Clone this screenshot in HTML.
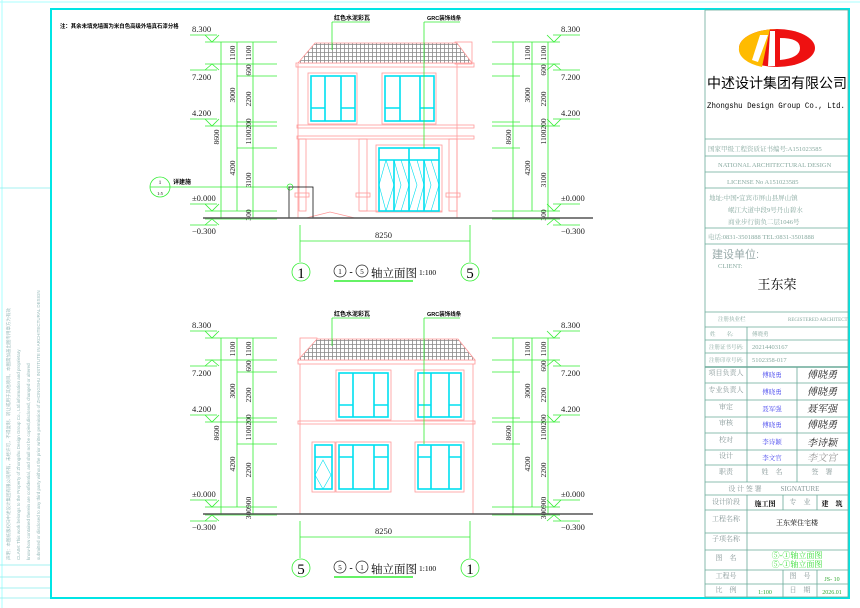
<!DOCTYPE html>
<html><head><meta charset="utf-8"><style>
html,body{margin:0;padding:0;background:#fff;}
svg{display:block;}
text{font-family:"Liberation Serif","Noto Serif CJK SC",serif;}
.s{font-family:"Liberation Sans","Noto Sans CJK SC",sans-serif;}
</style></head><body>
<svg width="860" height="608" viewBox="0 0 860 608" xmlns="http://www.w3.org/2000/svg">
<defs>
<pattern id="tile" width="4" height="4" patternUnits="userSpaceOnUse">
<rect width="4" height="4" fill="#fff"/><path d="M0 0.5H4M0.5 0V4" stroke="#888" stroke-width="0.8"/>
</pattern>
<g id="dims" fill="none" stroke="#33ee33" stroke-width="0.8">
 <path d="M190 35H217M205 35L212 42L219 35"/>
 <path d="M190 70H217M205 70L212 64L219 70"/>
 <path d="M190 119H217M205 119L212 126L219 119"/>
 <path d="M190 204H217M205 204L212 211L219 204"/>
 <path d="M190 225H217M205 225L212 219L219 225"/>
 <path d="M205 42H277M205 64H277M237 76H277M237 122H277M205 126H277M237 148H277M205 211H277M205 219H277"/>
 <path d="M221 42V219M237 42V211M253 42V219"/>
 <path d="M553 35H580M547 35L554 42L561 35"/>
 <path d="M553 70H580M547 70L554 64L561 70"/>
 <path d="M553 119H580M547 119L554 126L561 119"/>
 <path d="M553 204H580M547 204L554 211L561 204"/>
 <path d="M553 225H580M547 225L554 219L561 225"/>
 <path d="M492 42H560M492 64H560M492 76H520M492 122H520M492 126H560M492 148H520M492 211H560M492 219H560"/>
 <path d="M513 42V219M532 42V211M548 42V219"/>
 <path d="M300 225V262M470 225V262M300 241H470"/>
 <circle cx="301" cy="272" r="9"/><circle cx="470" cy="272" r="9"/>
 <path d="M334 281H413" stroke-width="1.5"/>
</g>
</defs>

<path d="M0 2H860M2 0V608" stroke="#aaffff" stroke-width="1"/>
<rect x="51" y="9" width="798" height="589" fill="none" stroke="#00e5e5" stroke-width="2"/>
<path d="M50 188H0M0 565H50M0 577H50M0 588H50M0 598H50" stroke="#88eeee" stroke-width="0.8"/>
<text class="s" transform="translate(10,560) rotate(-90)" font-size="4.5" fill="#99bbbb">声明：本图纸版权归中述设计集团有限公司所有，未经许可，不得复制、转让或用于其他项目。本图需加盖出图专用章方为有效</text>
<text class="s" transform="translate(20,560) rotate(-90)" font-size="4.5" fill="#99bbbb">CLAIM: This work belongs to the Property of Zhongshu Design Group Co., Ltd.information and proprietary</text>
<text class="s" transform="translate(30,560) rotate(-90)" font-size="4.5" fill="#99bbbb">know-how contained therein are confidential, and shall not be copied,disclosed, changed or altered</text>
<text class="s" transform="translate(40,560) rotate(-90)" font-size="4.5" fill="#99bbbb">submitted or disclosed to any third party without the prior written permission of ZHONGSHU INSTITUTE IN ARCHITECTURAL DESIGN</text>

<text class="s" x="60" y="28" font-size="5.4" font-weight="bold">注：其余未填充墙面为米白色高级外墙真石漆分格</text>
<circle cx="160" cy="187" r="10" fill="none" stroke="#33ee33" stroke-width="0.8"/>
<path d="M150 187H290" stroke="#33ee33" stroke-width="0.8"/>
<text x="160" y="184" font-size="5" text-anchor="middle">1</text>
<text x="160" y="195" font-size="4.5" text-anchor="middle">1:5</text>
<text class="s" x="173" y="184" font-size="6" font-weight="bold">详建施</text>
<circle cx="290" cy="187" r="3" fill="none" stroke="#33ee33" stroke-width="0.7"/>

<!-- ELEVATION 1 -->
<use href="#dims"/>
<g font-size="8.5" fill="#222">
<text x="192" y="32">8.300</text><text x="192" y="80">7.200</text><text x="192" y="116">4.200</text><text x="192" y="201">±0.000</text><text x="192" y="234">−0.300</text>
<text x="561" y="32">8.300</text><text x="561" y="80">7.200</text><text x="561" y="116">4.200</text><text x="561" y="201">±0.000</text><text x="561" y="234">−0.300</text>
<text x="375" y="238">8250</text>
</g>
<g font-size="7.5" fill="#222">
<text transform="translate(219,137) rotate(-90)" text-anchor="middle">8600</text>
<text transform="translate(235,53) rotate(-90)" text-anchor="middle">1100</text>
<text transform="translate(235,95) rotate(-90)" text-anchor="middle">3000</text>
<text transform="translate(235,168) rotate(-90)" text-anchor="middle">4200</text>
<text transform="translate(251,53) rotate(-90)" text-anchor="middle">1100</text>
<text transform="translate(251,70) rotate(-90)" text-anchor="middle">600</text>
<text transform="translate(251,99) rotate(-90)" text-anchor="middle">2200</text>
<text transform="translate(251,124) rotate(-90)" text-anchor="middle">200</text>
<text transform="translate(251,137) rotate(-90)" text-anchor="middle">1100</text>
<text transform="translate(251,180) rotate(-90)" text-anchor="middle">3100</text>
<text transform="translate(251,215) rotate(-90)" text-anchor="middle">300</text>
<text transform="translate(511,137) rotate(-90)" text-anchor="middle">8600</text>
<text transform="translate(530,53) rotate(-90)" text-anchor="middle">1100</text>
<text transform="translate(530,95) rotate(-90)" text-anchor="middle">3000</text>
<text transform="translate(530,168) rotate(-90)" text-anchor="middle">4200</text>
<text transform="translate(546,53) rotate(-90)" text-anchor="middle">1100</text>
<text transform="translate(546,70) rotate(-90)" text-anchor="middle">600</text>
<text transform="translate(546,99) rotate(-90)" text-anchor="middle">2200</text>
<text transform="translate(546,124) rotate(-90)" text-anchor="middle">200</text>
<text transform="translate(546,137) rotate(-90)" text-anchor="middle">1100</text>
<text transform="translate(546,180) rotate(-90)" text-anchor="middle">3100</text>
<text transform="translate(546,215) rotate(-90)" text-anchor="middle">300</text>
</g>
<text x="301" y="278" font-size="15" text-anchor="middle">1</text>
<text x="470" y="278" font-size="15" text-anchor="middle">5</text>
<g fill="none" stroke="#222" stroke-width="0.7"><circle cx="340" cy="271" r="6"/><circle cx="362" cy="271" r="6"/></g>
<text x="340" y="274" font-size="7" text-anchor="middle">1</text><text x="351" y="275" font-size="10" text-anchor="middle">-</text><text x="362" y="274" font-size="7" text-anchor="middle">5</text>
<text x="371" y="277" font-size="11.5">轴立面图</text>
<text x="419" y="275" font-size="7.5">1:100</text>

<g fill="none" stroke="#ff9999" stroke-width="0.8">
 <path d="M298 64V218M457 64V218"/>
 <rect x="296" y="63" width="178" height="4"/>
 <rect x="455" y="42" width="17" height="22"/>
 <rect x="297" y="125" width="177" height="3"/>
 <rect x="297" y="136" width="177" height="3"/>
 <rect x="299" y="139" width="7" height="72"/><rect x="359" y="139" width="8" height="72"/><rect x="449" y="139" width="8" height="72"/>
 <rect x="295" y="193" width="14" height="4"/><rect x="356" y="193" width="14" height="4"/><rect x="446" y="193" width="14" height="4"/>
 <rect x="308" y="73" width="49" height="51"/><rect x="382" y="73" width="54" height="51"/>
 <rect x="376" y="145" width="66" height="67"/>
 <path d="M360 211H442M306 218L330 212L355 218"/>
</g>
<path d="M315 43H457L472 63H298Z" fill="url(#tile)" stroke="#ff9999" stroke-width="0.8"/>
<g fill="none" stroke="#00e0f0" stroke-width="1.6">
 <rect x="311" y="76" width="44" height="45"/><path d="M325 76V121M341 76V121M311 108H325M341 108H355"/>
 <rect x="385" y="76" width="49" height="45"/><path d="M400 76V121M420 76V121M385 108H400M420 108H434"/>
 <rect x="379" y="148" width="60" height="63"/><path d="M379 160H439M409 148V211M394 160V211M424 160V211"/>
</g>
<g fill="none" stroke="#00e0f0" stroke-width="0.6">
 <path d="M386 160L394 185L386 211M394 160L401 185L394 211M401 160L409 185L401 211M409 160L417 185L409 211M417 160L424 185L417 211M431 160L439 185L431 211M379 185L386 160M379 185L386 211M424 160L431 185L424 211"/>
</g>
<rect x="289" y="187" width="24" height="31" fill="none" stroke="#111" stroke-width="0.8"/>
<path d="M203 218H593" stroke="#555" stroke-width="1.5"/>
<g stroke="#33ee33" stroke-width="0.8" fill="none">
 <path d="M332 22H370M332 22V50M424 22H460M424 22V148"/>
</g>
<text class="s" x="334" y="20" font-size="6" font-weight="bold">红色水泥彩瓦</text>
<text class="s" x="427" y="20" font-size="5.5" font-weight="bold">GRC装饰线条</text>

<!-- ELEVATION 2 -->
<use href="#dims" transform="translate(0,296)"/>
<g font-size="8.5" fill="#222">
<text x="192" y="328">8.300</text><text x="192" y="376">7.200</text><text x="192" y="412">4.200</text><text x="192" y="497">±0.000</text><text x="192" y="530">−0.300</text>
<text x="561" y="328">8.300</text><text x="561" y="376">7.200</text><text x="561" y="412">4.200</text><text x="561" y="497">±0.000</text><text x="561" y="530">−0.300</text>
<text x="375" y="534">8250</text>
</g>
<g font-size="7.5" fill="#222">
<text transform="translate(219,433) rotate(-90)" text-anchor="middle">8600</text>
<text transform="translate(235,349) rotate(-90)" text-anchor="middle">1100</text>
<text transform="translate(235,391) rotate(-90)" text-anchor="middle">3000</text>
<text transform="translate(235,464) rotate(-90)" text-anchor="middle">4200</text>
<text transform="translate(251,349) rotate(-90)" text-anchor="middle">1100</text>
<text transform="translate(251,366) rotate(-90)" text-anchor="middle">600</text>
<text transform="translate(251,395) rotate(-90)" text-anchor="middle">2200</text>
<text transform="translate(251,420) rotate(-90)" text-anchor="middle">200</text>
<text transform="translate(251,433) rotate(-90)" text-anchor="middle">1100</text>
<text transform="translate(251,470) rotate(-90)" text-anchor="middle">2200</text>
<text transform="translate(251,508) rotate(-90)" text-anchor="middle">300900</text>
<text transform="translate(511,433) rotate(-90)" text-anchor="middle">8600</text>
<text transform="translate(530,349) rotate(-90)" text-anchor="middle">1100</text>
<text transform="translate(530,391) rotate(-90)" text-anchor="middle">3000</text>
<text transform="translate(530,464) rotate(-90)" text-anchor="middle">4200</text>
<text transform="translate(546,349) rotate(-90)" text-anchor="middle">1100</text>
<text transform="translate(546,366) rotate(-90)" text-anchor="middle">600</text>
<text transform="translate(546,395) rotate(-90)" text-anchor="middle">2200</text>
<text transform="translate(546,420) rotate(-90)" text-anchor="middle">200</text>
<text transform="translate(546,433) rotate(-90)" text-anchor="middle">1100</text>
<text transform="translate(546,470) rotate(-90)" text-anchor="middle">2200</text>
<text transform="translate(546,508) rotate(-90)" text-anchor="middle">300900</text>
</g>
<text x="301" y="574" font-size="15" text-anchor="middle">5</text>
<text x="470" y="574" font-size="15" text-anchor="middle">1</text>
<g fill="none" stroke="#222" stroke-width="0.7"><circle cx="340" cy="567" r="6"/><circle cx="362" cy="567" r="6"/></g>
<text x="340" y="570" font-size="7" text-anchor="middle">5</text><text x="351" y="571" font-size="10" text-anchor="middle">-</text><text x="362" y="570" font-size="7" text-anchor="middle">1</text>
<text x="371" y="573" font-size="11.5">轴立面图</text>
<text x="419" y="571" font-size="7.5">1:100</text>

<g fill="none" stroke="#ff9999" stroke-width="0.8">
 <path d="M300 364V514M473 364V514"/>
 <rect x="298" y="360" width="177" height="4"/>
 <rect x="300" y="338" width="17" height="22"/>
 <rect x="298" y="421" width="177" height="3"/>
 <rect x="336" y="370" width="55" height="50"/><rect x="415" y="370" width="49" height="50"/>
 <rect x="312" y="442" width="23" height="50"/><rect x="336" y="442" width="55" height="50"/><rect x="415" y="442" width="49" height="50"/>
</g>
<path d="M317 339H458L475 360H298Z" fill="url(#tile)" stroke="#ff9999" stroke-width="0.8"/>
<g fill="none" stroke="#00e0f0" stroke-width="1.6">
 <rect x="339" y="373" width="49" height="44"/><path d="M353 373V417M374 373V417M339 405H353M374 405H388"/>
 <rect x="418" y="373" width="43" height="44"/><path d="M431 373V417M449 373V417M418 405H431M449 405H461"/>
 <rect x="339" y="445" width="49" height="44"/><path d="M353 445V489M374 445V489M339 457H353M374 457H388"/>
 <rect x="418" y="445" width="43" height="44"/><path d="M431 445V489M449 445V489M418 457H431M449 457H461"/>
 <rect x="315" y="445" width="17" height="44"/><path d="M315 457H332"/>
</g>
<path d="M323 460L331 475L323 489L315 475Z" fill="none" stroke="#00e0f0" stroke-width="0.6"/>
<path d="M203 514H593" stroke="#555" stroke-width="1.5"/>
<g stroke="#33ee33" stroke-width="0.8" fill="none">
 <path d="M332 318H370M332 318V346M424 318H460M424 318V444"/>
</g>
<text class="s" x="334" y="316" font-size="6" font-weight="bold">红色水泥彩瓦</text>
<text class="s" x="427" y="316" font-size="5.5" font-weight="bold">GRC装饰线条</text>

<!-- TITLE BLOCK -->
<g fill="none" stroke="#6aaa99" stroke-width="0.8">
 <rect x="705" y="10" width="143" height="587"/>
 <path d="M705 139H848M705 156H848M705 172H848M705 188H848M705 228H848M705 244H848"/>
 <path d="M705 312H848M705 327H848M705 340H848M705 353H848M705 383H848M705 400H848M705 417H848M705 433H848M705 450H848M705 465H848M705 482H848M705 495H848M705 510H848M705 533H848M705 550H848M705 570H848M705 584H848"/>
 <path d="M747 327V367M747 367V482M797 367V482M747 495V597M783 495V510M817 495V510M783 570V597M817 570V597"/>
 <path d="M705 367H848" stroke-width="1.4"/>
</g>
<ellipse cx="777" cy="48" rx="38" ry="19" fill="#ee1111"/>
<path d="M739 48 A38 19 0 0 1 777 29 L770 29 L762 67 A38 19 0 0 1 739 48Z" fill="#ffbb00"/>
<path d="M760 35 L768 35 L758 62 L752 60 Z" fill="#fff"/>
<path d="M770 31 L775 31 L775 66 L768 66 Z" fill="#fff"/>
<path d="M780 38 Q800 38 800 48 Q800 58 780 60 Z" fill="#fff"/>
<text class="s" x="777" y="88" font-size="14" text-anchor="middle">中述设计集团有限公司</text>
<text x="776" y="108" font-size="8.2" text-anchor="middle" textLength="138" lengthAdjust="spacingAndGlyphs" style="font-family:'Liberation Mono',monospace">Zhongshu Design Group Co., Ltd.</text>
<g font-size="6.5" fill="#88aaa0" style="font-family:'Liberation Mono','Noto Sans CJK SC',monospace">
<text x="708" y="151">国家甲级工程资质证书编号:A151023585</text>
<text x="718" y="167">NATIONAL ARCHITECTURAL DESIGN</text>
<text x="727" y="184">LICENSE No A151023585</text>
<text x="709" y="200">地址:中国•宜宾市屏山县屏山镇</text>
<text x="728" y="212">岷江大道中段9号丹山碧水</text>
<text x="728" y="224">商业步行街负二层1046号</text>
<text x="708" y="239">电话:0831-3501888  TEL:0831-3501888</text>
<text x="718" y="268">CLIENT:</text>
</g>
<text class="s" x="712" y="258" font-size="11" fill="#99aaaa">建设单位:</text>
<text x="777" y="289" font-size="13" text-anchor="middle">王东荣</text>

<g font-size="5.5" fill="#88aaa0">
<text x="718" y="321">注册执业栏</text><text x="788" y="321" font-size="5">REGISTERED ARCHITECT</text>
<text x="710" y="336">姓　　名:</text><text x="752" y="336">傅晓勇</text>
<text x="709" y="349">注册证书号码:</text><text x="752" y="349" font-size="6.5">20214403167</text>
<text x="709" y="362">注册印章号码:</text><text x="752" y="362" font-size="6.5">5102358-017</text>
</g>
<g font-size="7" fill="#889999" text-anchor="middle">
<text x="726" y="375">项目负责人</text><text x="726" y="392">专业负责人</text><text x="726" y="409">审定</text><text x="726" y="425">审核</text><text x="726" y="442">校对</text><text x="726" y="458">设计</text><text x="726" y="474">职责</text>
<text x="772" y="474">姓　名</text><text x="822" y="474">签　署</text>
<text x="745" y="491">设 计 签 署</text><text x="800" y="491">SIGNATURE</text>
<text x="726" y="504">设计阶段</text><text x="800" y="504">专　业</text>
<text x="726" y="521">工程名称</text><text x="726" y="541">子项名称</text><text x="726" y="560">图　名</text><text x="726" y="578">工程号</text><text x="800" y="578">图　号</text><text x="726" y="592">比　例</text><text x="800" y="592">日　期</text>
</g>
<g font-size="6.5" fill="#4444ee" text-anchor="middle">
<text x="772" y="377">傅晓勇</text><text x="772" y="394">傅晓勇</text><text x="772" y="411">聂军强</text><text x="772" y="427">傅晓勇</text><text x="772" y="444">李诗颖</text><text x="772" y="460">李文官</text>
</g>
<g font-size="10" fill="#222" text-anchor="middle" style="font-style:italic">
<text x="822" y="378">傅晓勇</text><text x="822" y="395">傅晓勇</text><text x="822" y="412">聂军强</text><text x="822" y="428">傅晓勇</text><text x="822" y="446">李诗颖</text><text x="822" y="461" fill="#999">李文官</text>
</g>
<text x="765" y="506" font-size="7" text-anchor="middle" font-weight="bold">施工图</text>
<text x="832" y="506" font-size="7" text-anchor="middle" font-weight="bold">建　筑</text>
<text x="797" y="525" font-size="7" text-anchor="middle">王东荣住宅楼</text>
<text x="797" y="558" font-size="8" text-anchor="middle" fill="#33dd33">⑤-①轴立面图</text>
<text x="797" y="567" font-size="8" text-anchor="middle" fill="#33dd33">⑤-①轴立面图</text>
<text x="832" y="581" font-size="6" text-anchor="middle" fill="#33aa33">JS- 10</text>
<text x="765" y="594" font-size="6" text-anchor="middle" fill="#33aa33">1:100</text>
<text x="832" y="594" font-size="6" text-anchor="middle" fill="#33aa33">2026.01</text>
</svg>
</body></html>
